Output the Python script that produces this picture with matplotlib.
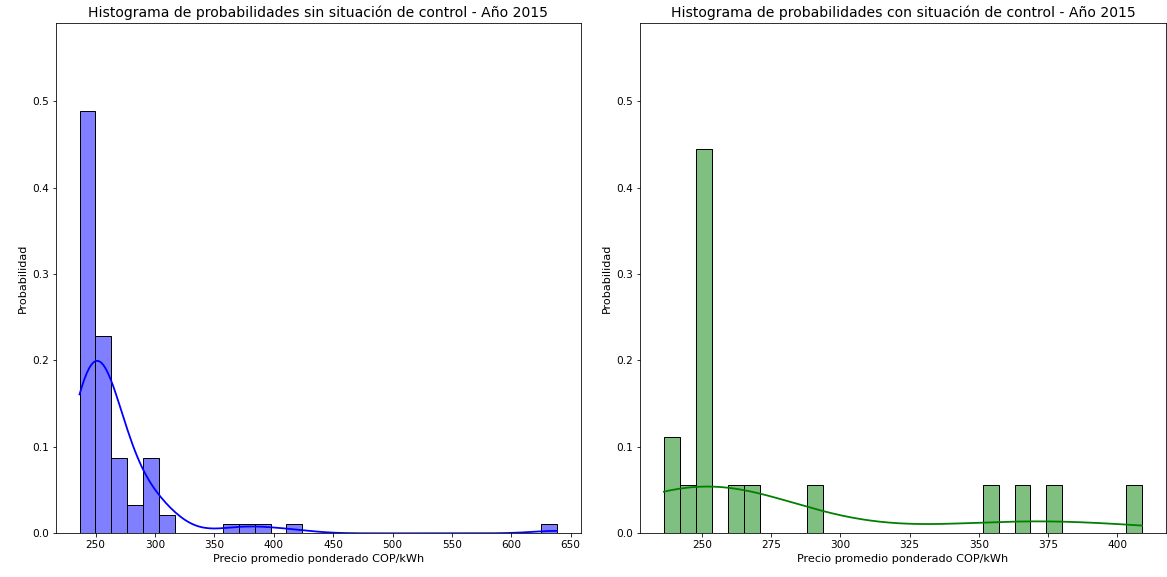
import matplotlib
matplotlib.use("Agg")
import matplotlib.pyplot as plt
import seaborn as sns

# Precio promedio ponderado (COP/kWh), 2015
precio_sin_control = [
    236.5, 238.1, 239.4, 240.2, 240.9, 241.5, 242.0, 242.4, 242.8, 243.1,
    243.5, 243.8, 244.1, 244.4, 244.7, 245.0, 245.2, 245.5, 245.7, 246.0,
    246.2, 246.4, 246.6, 246.8, 247.0, 247.2, 247.4, 247.6, 247.7, 247.9,
    248.0, 248.2, 248.3, 248.5, 248.6, 248.8, 248.9, 249.0, 249.1, 249.2,
    249.3, 249.4, 249.5, 249.6, 249.7,
    250.2, 250.6, 251.0, 251.4, 251.8, 252.3, 252.7, 253.1, 253.6, 254.0,
    254.5, 255.1, 255.7, 256.3, 257.0, 257.8, 258.6, 259.5, 260.4, 261.5,
    262.6,
    264.0, 265.2, 266.5, 267.9, 269.4, 271.0, 273.1, 275.4,
    279.5, 283.8, 288.2,
    291.2, 292.8, 294.5, 296.1, 297.6, 299.2, 300.8, 302.5,
    306.0, 311.5,
    363.0, 377.0, 391.0, 416.0, 638.5,
]

precio_con_control = [
    236.2, 240.0, 245.0,
    248.3, 249.1, 249.8, 250.4, 251.0, 251.6, 252.2, 252.9,
    262.0, 267.5, 291.0, 354.0, 365.5, 377.5, 409.0,
]

titulos = [
    "Histograma de probabilidades sin situación de control - Año 2015",
    "Histograma de probabilidades con situación de control - Año 2015",
]
colores = ["blue", "green"]

fig = plt.figure(figsize=(1167 / 72, 577 / 72), dpi=72)
ax1 = fig.add_axes([0.0477, 0.0757, 0.4501, 0.8839])
ax2 = fig.add_axes([0.5484, 0.0757, 0.4507, 0.8839])

for ax, datos, titulo, color in zip([ax1, ax2],
                                    [precio_sin_control, precio_con_control],
                                    titulos, colores):
    sns.histplot(datos, bins=30, stat="probability", kde=True,
                 color=color, ax=ax, line_kws={"linewidth": 1.8})
    ax.set_ylim(0, 0.59)
    ax.set_title(titulo, fontsize=14)
    ax.set_xlabel("Precio promedio ponderado COP/kWh", fontsize=11.3)
    ax.set_ylabel("Probabilidad", fontsize=11.3)
    ax.tick_params(labelsize=10.5)

fig.savefig("out.png", dpi=72)
